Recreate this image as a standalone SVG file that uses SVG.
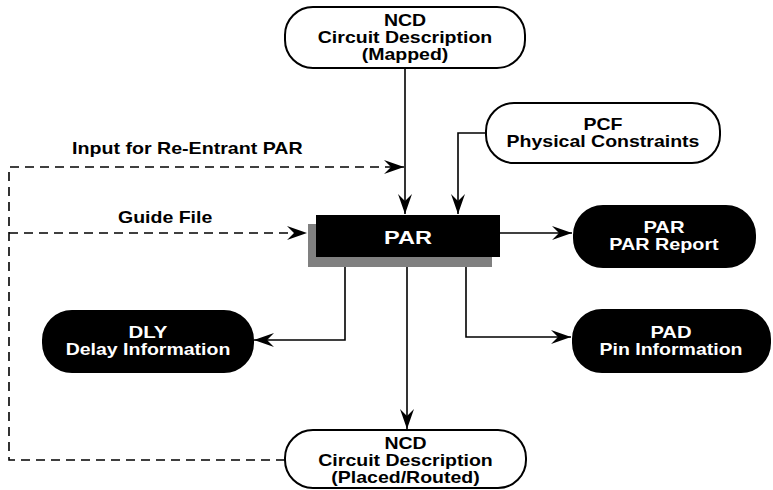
<svg xmlns="http://www.w3.org/2000/svg" width="773" height="490" viewBox="0 0 773 490">
<style>
text{font-family:"Liberation Sans",Arial,sans-serif;font-weight:bold;font-size:16.5px;text-anchor:middle}
.lbl{text-anchor:start}
.w{fill:#fff}
.big{font-size:19px}
.ob{fill:#fff;stroke:#000;stroke-width:2}
.fb{fill:#000;stroke:#000;stroke-width:2}
.ln{fill:none;stroke:#000;stroke-width:1.6}
.dl{fill:none;stroke:#000;stroke-width:1.6;stroke-dasharray:9 6}
</style>
<defs>
<marker id="ah" viewBox="-21 -8 22 16" refX="0" refY="0" markerWidth="22" markerHeight="16" markerUnits="userSpaceOnUse" orient="auto">
<path d="M0,0 L-20,-7 L-13,0 L-20,7 Z" fill="#000"/>
</marker>
</defs>
<g id="connectors">
<path class="ln" d="M405,68 V214" marker-end="url(#ah)"/>
<path class="ln" d="M486,133 H458 V214" marker-end="url(#ah)"/>
<path class="dl" d="M285,460 H9 V167 H404" marker-end="url(#ah)"/>
<path class="dl" d="M9,233 H307" marker-end="url(#ah)"/>
<path class="ln" d="M500,233 H572" marker-end="url(#ah)"/>
<path class="ln" d="M345,262 V340 H254" marker-end="url(#ah)"/>
<path class="ln" d="M407,262 V429" marker-end="url(#ah)"/>
<path class="ln" d="M466,262 V337 H571" marker-end="url(#ah)"/>
<text class="lbl" x="72" y="153.5" textLength="230.7" lengthAdjust="spacingAndGlyphs">Input for Re-Entrant PAR</text>
<text class="lbl" x="118" y="223" textLength="94.3" lengthAdjust="spacingAndGlyphs">Guide File</text>
</g>
<g id="ncd-mapped">
<rect class="ob" x="285" y="7" width="240" height="61" rx="28"/>
<text x="405" y="26" textLength="42.2" lengthAdjust="spacingAndGlyphs">NCD</text>
<text x="405" y="43" textLength="174.4" lengthAdjust="spacingAndGlyphs">Circuit Description</text>
<text x="405" y="60" textLength="86.7" lengthAdjust="spacingAndGlyphs">(Mapped)</text>
</g>
<g id="pcf">
<rect class="ob" x="486" y="103" width="234" height="60" rx="28"/>
<text x="603" y="129.5" textLength="39" lengthAdjust="spacingAndGlyphs">PCF</text>
<text x="603" y="146.5" textLength="192.9" lengthAdjust="spacingAndGlyphs">Physical Constraints</text>
</g>
<g id="par">
<rect x="308" y="224" width="184" height="43" fill="#808080"/>
<rect x="316" y="215" width="184" height="42" fill="#000"/>
<text class="w big" x="408" y="243.5" textLength="48" lengthAdjust="spacingAndGlyphs">PAR</text>
</g>
<g id="par-report">
<rect class="fb" x="574" y="206" width="181" height="61" rx="29"/>
<text class="w" x="664" y="232.7" textLength="41.2" lengthAdjust="spacingAndGlyphs">PAR</text>
<text class="w" x="664" y="249.7" textLength="109.4" lengthAdjust="spacingAndGlyphs">PAR Report</text>
</g>
<g id="dly">
<rect class="fb" x="43" y="311" width="210" height="61" rx="29"/>
<text class="w" x="148" y="337.7" textLength="39" lengthAdjust="spacingAndGlyphs">DLY</text>
<text class="w" x="148" y="354.7" textLength="164.7" lengthAdjust="spacingAndGlyphs">Delay Information</text>
</g>
<g id="pad">
<rect class="fb" x="573" y="310" width="197" height="62" rx="29"/>
<text class="w" x="671" y="337.7" textLength="41.2" lengthAdjust="spacingAndGlyphs">PAD</text>
<text class="w" x="671" y="354.7" textLength="143" lengthAdjust="spacingAndGlyphs">Pin Information</text>
</g>
<g id="ncd-routed">
<rect class="ob" x="285" y="430" width="241" height="58" rx="28"/>
<text x="405.5" y="449" textLength="42.2" lengthAdjust="spacingAndGlyphs">NCD</text>
<text x="405.5" y="466" textLength="174.4" lengthAdjust="spacingAndGlyphs">Circuit Description</text>
<text x="405.5" y="483" textLength="148.4" lengthAdjust="spacingAndGlyphs">(Placed/Routed)</text>
</g>
</svg>
